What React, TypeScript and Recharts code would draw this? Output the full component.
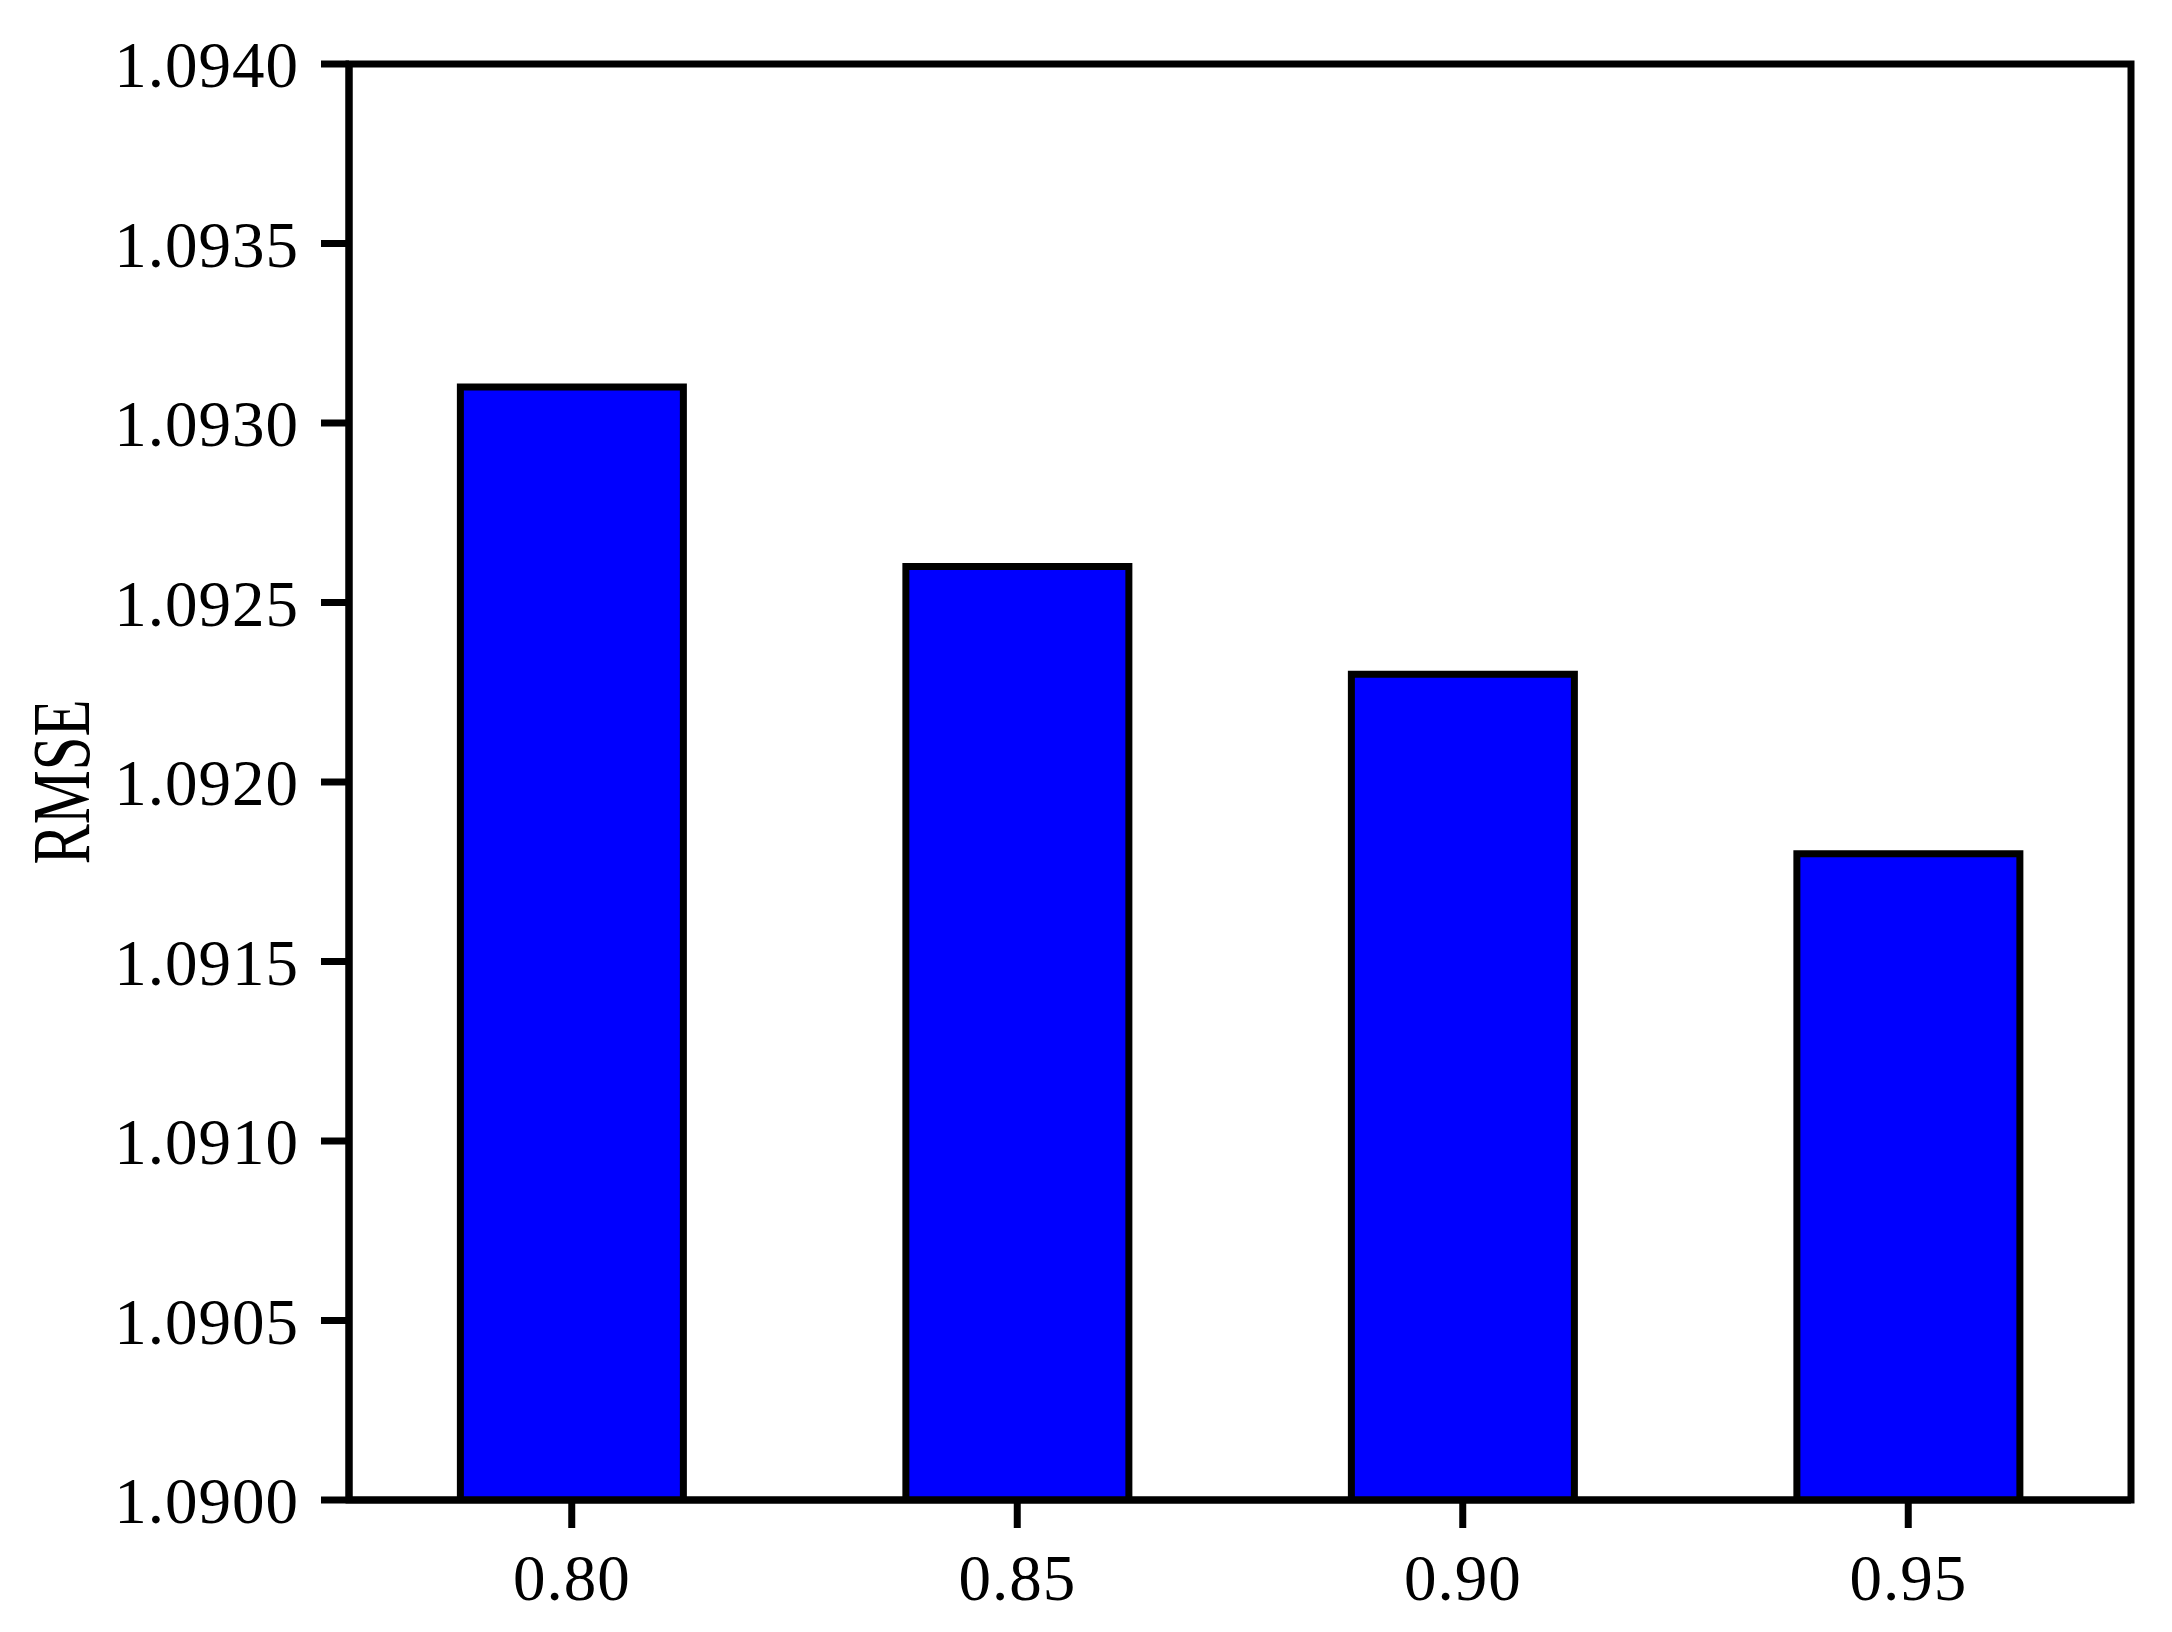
import { BarChart, Bar, XAxis, YAxis, Label, ReferenceArea } from 'recharts';

const categories = ['0.80', '0.85', '0.90', '0.95'];
const rmseValues = [1.0931, 1.0926, 1.0923, 1.0918];
const yTicks = [1.09, 1.0905, 1.091, 1.0915, 1.092, 1.0925, 1.093, 1.0935, 1.094];

const data = categories.map((c, i) => ({ name: c, rmse: rmseValues[i] }));

const FONT = '"Liberation Serif", "Times New Roman", serif';
const AXIS_W = 7;

const tickStyle = { fontSize: 65, fill: '#000', fontFamily: FONT, letterSpacing: 1 };

function RmseLabel(props: any) {
  const vb = props.viewBox || { x: 0, y: 64, width: 349, height: 1436 };
  const cy = vb.y + vb.height / 2;
  return (
    <text
      transform={`translate(62, ${cy}) rotate(-90) scale(0.74, 1)`}
      textAnchor="middle"
      dominantBaseline="central"
      fontSize={82}
      fontFamily={FONT}
      fill="#000"
    >
      RMSE
    </text>
  );
}

export default function App() {
  return (
    <div style={{ width: 2172, height: 1632, background: '#fff' }}>
      <style>{`body { margin: 0; }`}</style>
      <BarChart
        width={2172}
        height={1632}
        data={data}
        margin={{ top: 64, right: 41, left: 0, bottom: 0 }}
        barCategoryGap="25%"
      >
        <XAxis
          dataKey="name"
          height={132}
          axisLine={{ stroke: '#000', strokeWidth: AXIS_W }}
          tickLine={{ stroke: '#000', strokeWidth: AXIS_W }}
          tickSize={28}
          tickMargin={26}
          tick={tickStyle}
        />
        <YAxis
          width={349}
          domain={[1.09, 1.094]}
          ticks={yTicks}
          interval={0}
          allowDataOverflow
          tickFormatter={(v: number) => v.toFixed(4)}
          axisLine={{ stroke: '#000', strokeWidth: AXIS_W }}
          tickLine={{ stroke: '#000', strokeWidth: AXIS_W }}
          tickSize={28}
          tickMargin={22}
          tick={tickStyle}
        >
          <Label content={RmseLabel} />
        </YAxis>
        <ReferenceArea
          y1={1.09}
          y2={1.094}
          fill="none"
          fillOpacity={0}
          stroke="#000"
          strokeWidth={AXIS_W}
          ifOverflow="visible"
        />
        <Bar
          dataKey="rmse"
          fill="#0000FF"
          stroke="#000"
          strokeWidth={7}
          isAnimationActive={false}
        />
      </BarChart>
    </div>
  );
}
